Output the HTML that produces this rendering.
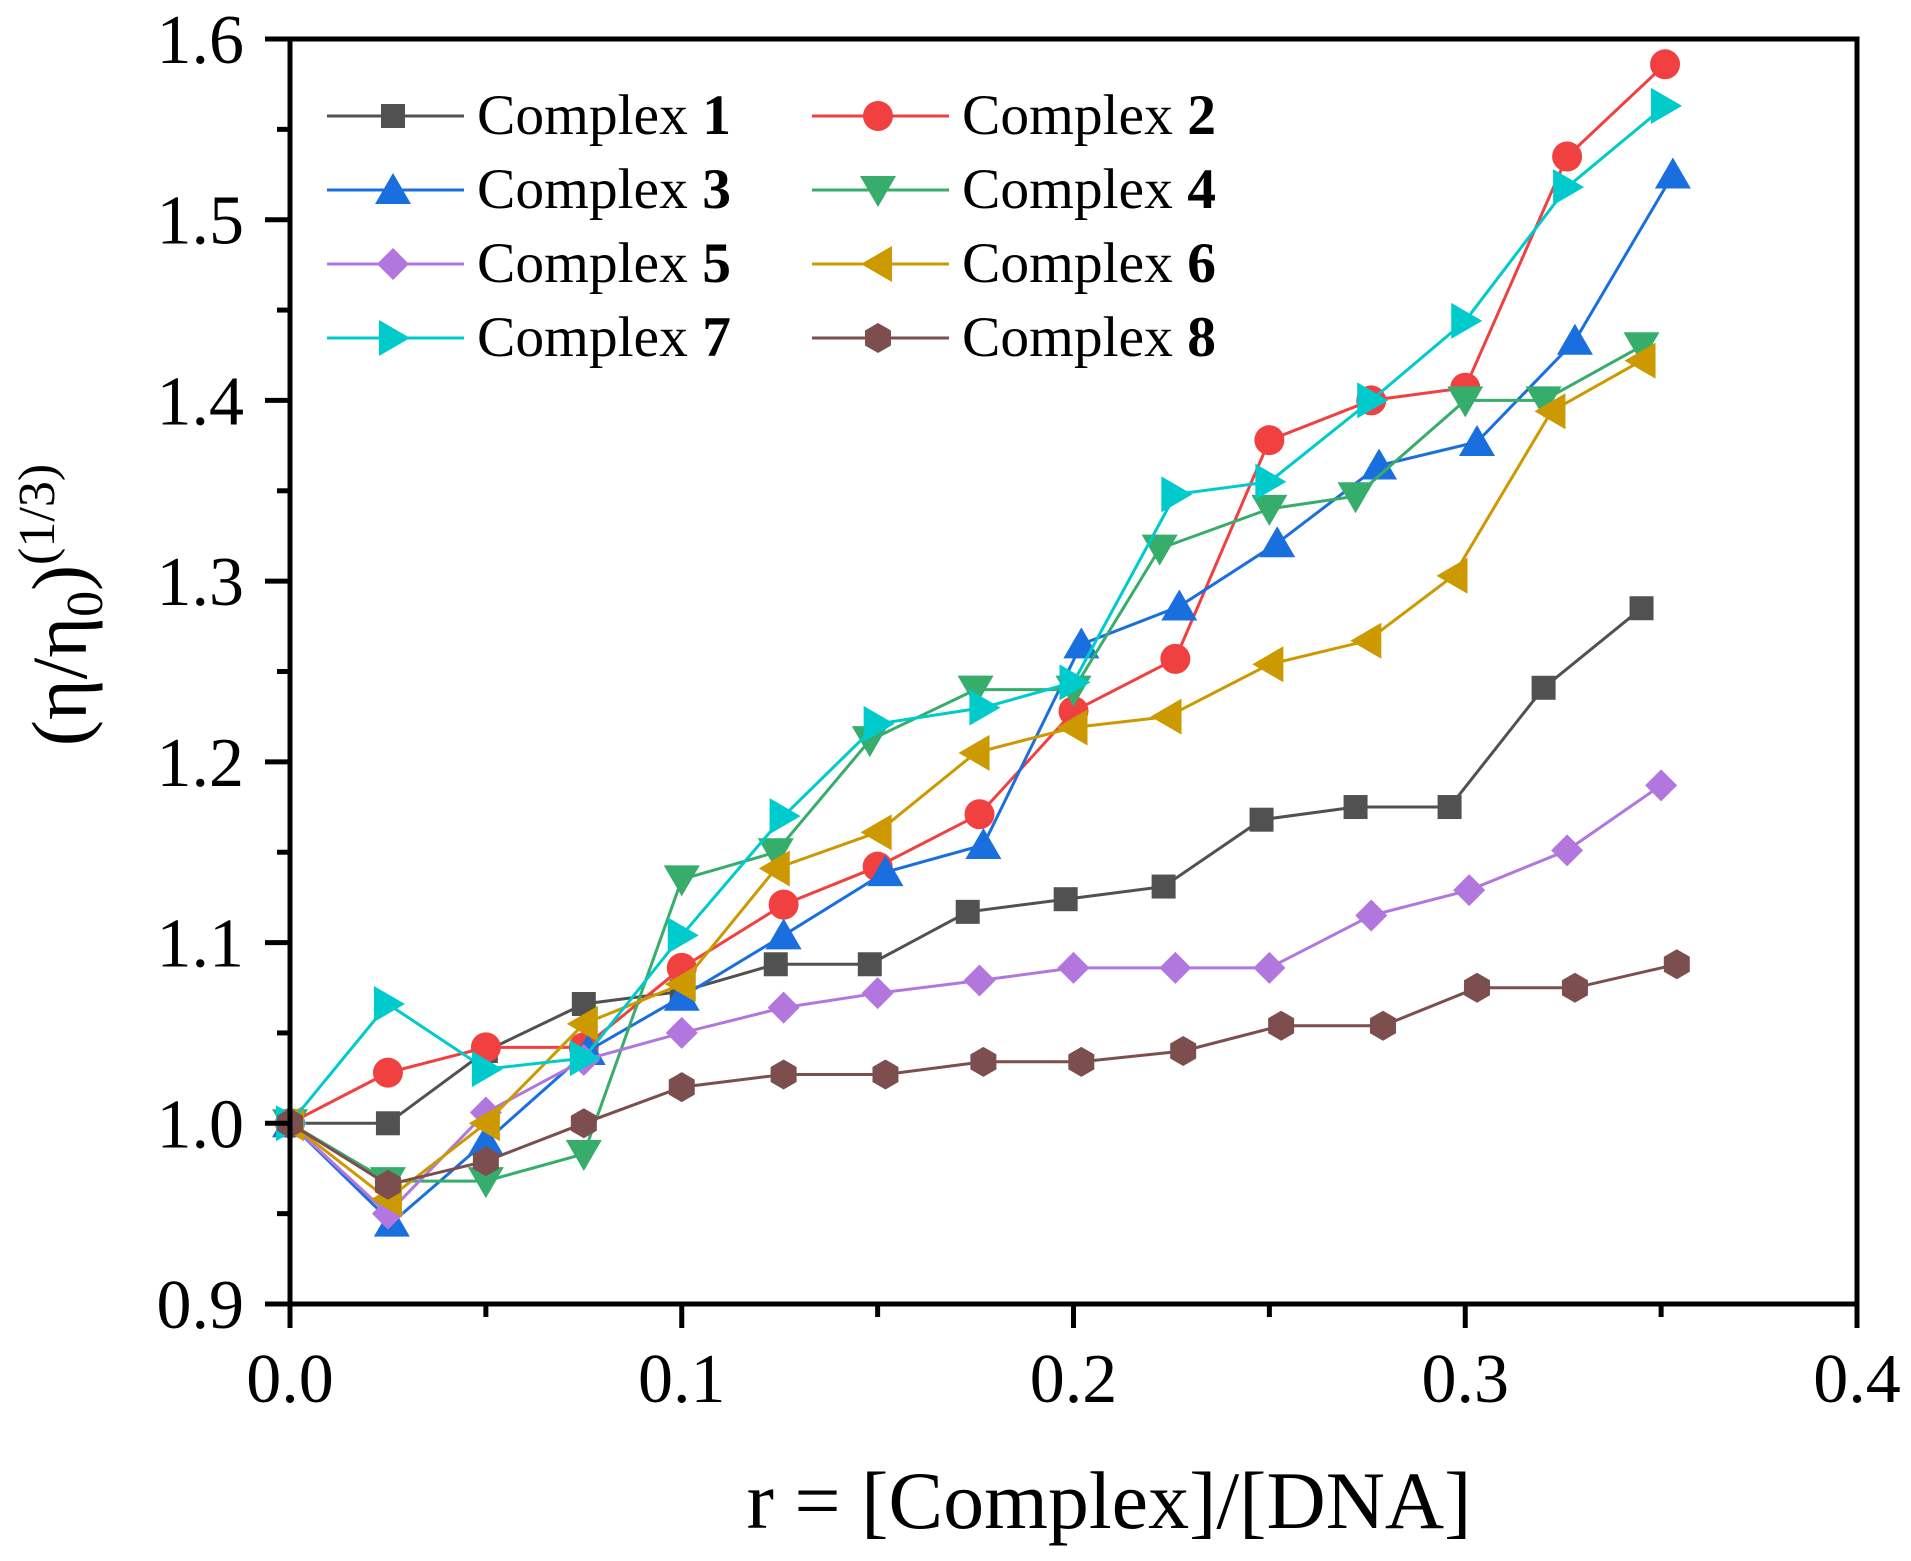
<!DOCTYPE html>
<html><head><meta charset="utf-8"><style>
html,body{margin:0;padding:0;background:#fff}
svg{display:block}
text{font-family:"Liberation Serif",serif;fill:#000}
</style></head><body>
<svg id="chart" width="1911" height="1561" viewBox="0 0 1911 1561" xmlns="http://www.w3.org/2000/svg">
<g id="series-layer"></g>
<g id="axes-layer"></g>
<g id="legend-layer"></g>
</svg>
<script>
const names=["1","2","3","4","5","6","7","8"];
const colors=["#515151","#F14040","#1A6FDF","#37AD6B","#B177DE","#CC9900","#00CBCC","#7D4E4E"];
const markers=["square","circle","up","down","diamond","left","right","hex"];
const x1=[0,0.025,0.05,0.075,0.1,0.124,0.148,0.173,0.198,0.223,0.248,0.272,0.296,0.32,0.345];
const y1=[1.0,1.0,1.04,1.066,1.073,1.088,1.088,1.117,1.124,1.131,1.168,1.175,1.175,1.241,1.285];
const x2=[0,0.025,0.05,0.075,0.1,0.126,0.15,0.176,0.2,0.226,0.25,0.276,0.3,0.326,0.351];
const y2=[1.0,1.028,1.042,1.042,1.086,1.121,1.142,1.171,1.228,1.257,1.378,1.400,1.407,1.535,1.586];
const x3=[0,0.026,0.05,0.076,0.1,0.126,0.152,0.177,0.202,0.227,0.252,0.278,0.303,0.328,0.353];
const y3=[1.0,0.945,0.99,1.04,1.07,1.104,1.139,1.154,1.265,1.286,1.321,1.364,1.377,1.433,1.525];
const x4=[0,0.025,0.05,0.075,0.1,0.124,0.148,0.175,0.2,0.222,0.25,0.272,0.3,0.32,0.345];
const y4=[1.0,0.968,0.968,0.983,1.135,1.150,1.212,1.240,1.240,1.318,1.340,1.347,1.400,1.400,1.430];
const x5=[0,0.025,0.05,0.075,0.1,0.126,0.15,0.176,0.2,0.226,0.25,0.276,0.301,0.326,0.35];
const y5=[1.0,0.95,1.006,1.035,1.05,1.064,1.072,1.079,1.086,1.086,1.086,1.115,1.129,1.151,1.187];
const x6=[0,0.025,0.05,0.075,0.1,0.124,0.15,0.175,0.2,0.224,0.25,0.275,0.297,0.322,0.345];
const y6=[1.0,0.958,1.0,1.055,1.077,1.141,1.161,1.205,1.219,1.225,1.254,1.267,1.303,1.394,1.422];
const x7=[0,0.025,0.05,0.075,0.1,0.126,0.15,0.177,0.2,0.226,0.25,0.276,0.3,0.326,0.351];
const y7=[1.0,1.066,1.030,1.036,1.104,1.170,1.221,1.230,1.244,1.348,1.355,1.400,1.444,1.518,1.563];
const x8=[0,0.025,0.05,0.075,0.1,0.126,0.152,0.177,0.202,0.228,0.253,0.279,0.303,0.328,0.354];
const y8=[1.0,0.966,0.979,1.0,1.020,1.027,1.027,1.034,1.034,1.040,1.054,1.054,1.075,1.075,1.088];
const xTicks=[0,0.1,0.2,0.3,0.4];
const xTickLabels=["0.0","0.1","0.2","0.3","0.4"];
const yTicks=[0.9,1.0,1.1,1.2,1.3,1.4,1.5,1.6];
const yTickLabels=["0.9","1.0","1.1","1.2","1.3","1.4","1.5","1.6"];

const XS=[x1,x2,x3,x4,x5,x6,x7,x8], YS=[y1,y2,y3,y4,y5,y6,y7,y8];
const L=290,R=1857,T=39,B=1304;
const sx=v=>L+(v-0)/(0.4-0)*(R-L);
const sy=v=>B-(v-0.9)/(1.6-0.9)*(B-T);
const NS="http://www.w3.org/2000/svg";
function mk(tag,attrs,parent){const e=document.createElementNS(NS,tag);for(const k in attrs)e.setAttribute(k,attrs[k]);parent.appendChild(e);return e;}
function marker(type,cx,cy,col,parent){
  let e;
  if(type==="square")e=mk("rect",{x:cx-12,y:cy-12,width:24,height:24,fill:col},parent);
  else if(type==="circle")e=mk("circle",{cx:cx,cy:cy,r:15,fill:col},parent);
  else{
    let pts;
    if(type==="up")pts=[[0,-17],[18,14],[-18,14]];
    else if(type==="down")pts=[[0,17],[18,-14],[-18,-14]];
    else if(type==="left")pts=[[-17,0],[14,-18],[14,18]];
    else if(type==="right")pts=[[17,0],[-14,-18],[-14,18]];
    else if(type==="diamond")pts=[[0,-16],[16,0],[0,16],[-16,0]];
    else{pts=[];for(let i=0;i<6;i++){const a=Math.PI/6+i*Math.PI/3;pts.push([15*Math.cos(a),15*Math.sin(a)]);}}
    e=mk("polygon",{points:pts.map(p=>(cx+p[0])+","+(cy+p[1])).join(" "),fill:col},parent);
  }
  return e;
}
const sl=document.getElementById("series-layer");
for(let i=0;i<8;i++){
  const g=mk("g",{},sl);
  
  
  const d=XS[i].map((v,j)=>(j?"L":"M")+sx(v).toFixed(1)+" "+sy(YS[i][j]).toFixed(1)).join(" ");
  const p=mk("path",{d:d,fill:"none",stroke:colors[i],"stroke-width":3},g);
  
  
  XS[i].forEach((v,j)=>{
    const m=marker(markers[i],sx(v),sy(YS[i][j]),colors[i],g);
    
    
  });
}
const ax=document.getElementById("axes-layer");
const frame=mk("rect",{x:L,y:T,width:R-L,height:B-T,fill:"none",stroke:"#000","stroke-width":5},ax);


for(let v=0;v<=0.4001;v+=0.05){
  const major=Math.abs(v*10-Math.round(v*10))<1e-6;
  const t=mk("line",{x1:sx(v),x2:sx(v),y1:B,y2:B+(major?24:13),stroke:"#000","stroke-width":5},ax);
  
  
}
xTicks.forEach((v,i)=>{
  const t=mk("text",{x:sx(v),y:1402,"text-anchor":"middle","font-size":70},ax);t.textContent=xTickLabels[i];
  
  
});
for(let k=0;k<=14;k++){
  const v=0.9+k*0.05;const major=k%2===0;
  const t=mk("line",{x1:L,x2:L-(major?25:13),y1:sy(v),y2:sy(v),stroke:"#000","stroke-width":5},ax);
  
  
}
yTicks.forEach((v,i)=>{
  const t=mk("text",{x:244,y:sy(v)+24,"text-anchor":"end","font-size":70},ax);t.textContent=yTickLabels[i];
  
  
});
const xt=mk("text",{x:1109,y:1528,"text-anchor":"middle","font-size":82},ax);
xt.textContent="r = [Complex]/[DNA]";


const yt=mk("text",{transform:"translate(86,605) rotate(-90)","text-anchor":"middle","font-size":78},ax);


yt.innerHTML='(η/η<tspan font-size="52" dy="16">0</tspan><tspan dy="-16">)</tspan><tspan font-size="52" dy="-32">(1/3)</tspan>';
const lg=document.getElementById("legend-layer");
for(let i=0;i<8;i++){
  const col=i%2,row=Math.floor(i/2);
  const lx=col?812:327,cy=116+row*74;
  const g=mk("g",{},lg);
  
  
  mk("line",{x1:lx,x2:lx+137,y1:cy,y2:cy,stroke:colors[i],"stroke-width":3},g);
  marker(markers[i],lx+66,cy,colors[i],g);
  const t=mk("text",{x:lx+150,y:cy+18,"font-size":57.5},g);
  t.innerHTML='Complex <tspan font-weight="bold">'+names[i]+'</tspan>';
}
</script>
</body></html>
